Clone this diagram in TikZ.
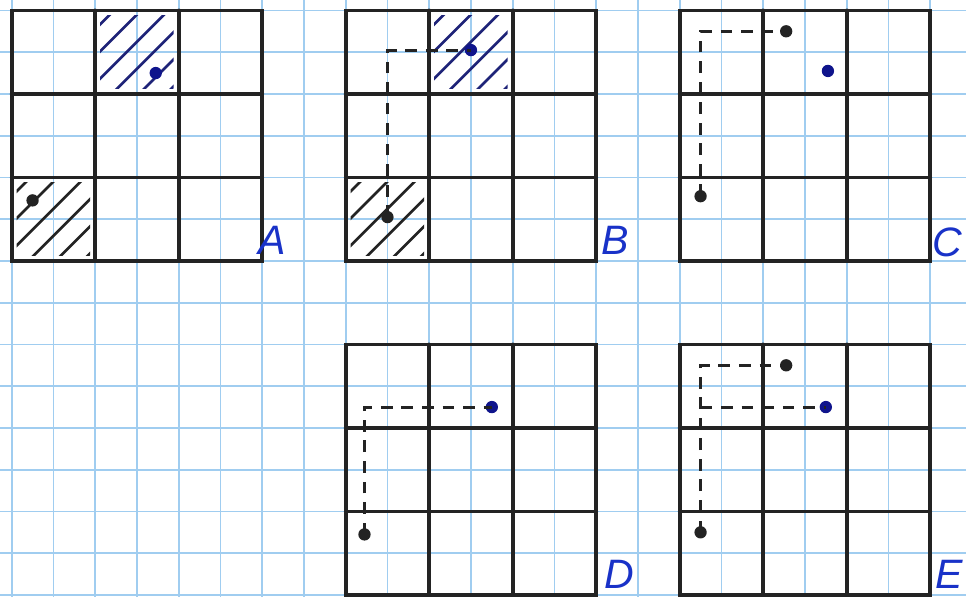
\documentclass[tikz,border=0pt]{standalone}
\usepackage{fontspec}
\setsansfont{Liberation Sans}
\definecolor{paperblue}{RGB}{160,205,240}
\definecolor{ink}{RGB}{35,35,35}
\definecolor{penblue}{RGB}{30,35,120}
\definecolor{dotblue}{RGB}{15,20,140}
\definecolor{letterblue}{RGB}{25,50,200}
\begin{document}
\begin{tikzpicture}[x=5mm, y=-5mm,
  gridline/.style={draw=paperblue, line width=0.6pt},
  panel/.style={draw=ink, line width=1.3pt, line cap=round},
  dot/.style={circle, fill=#1, inner sep=0pt, minimum size=4.2pt},
  route/.style={draw=ink, line width=1pt, dash pattern=on 4pt off 3pt},
  hatch/.style={draw=#1, line width=0.9pt, line cap=round},
  tag/.style={text=letterblue, font=\sffamily\itshape\fontsize{14}{14}\selectfont}]
  \useasboundingbox[fill=white] (-0.28,-0.25) rectangle (22.857,14.049);
  \foreach \i in {0,...,22}
    \draw[gridline] (\i,-0.25) -- (\i,14.049);
  \foreach \j in {0,...,14}
    \draw[gridline] (-0.28,\j) -- (22.857,\j);
  \foreach \cx/\cy/\cc in {2/0/penblue, 0/4/ink, 10/0/penblue, 8/4/ink} {
    \begin{scope}
      \clip (\cx+0.12,\cy+0.12) rectangle (\cx+1.88,\cy+1.88);
      \foreach \t in {0.45,1.1,...,3.8}
        \draw[hatch=\cc] (\cx+\t,\cy) -- ++(-2,2);
    \end{scope}
  }
  \foreach \ox/\oy in {0/0, 8/0, 16/0, 8/8, 16/8} {
    \draw[panel] (\ox,\oy) rectangle ++(6,6);
    \draw[panel] (\ox+2,\oy) -- ++(0,6) (\ox+4,\oy) -- ++(0,6);
    \draw[panel] (\ox,\oy+2) -- ++(6,0) (\ox,\oy+4) -- ++(6,0);
  }
  \node[dot=dotblue] (aB) at (3.45,1.5) {};
  \node[dot=ink] (aK) at (0.5,4.55) {};
  \node[dot=dotblue] (bB) at (11,0.95) {};
  \node[dot=ink] (bK) at (9,4.95) {};
  \node[dot=ink] (cT) at (18.55,0.5) {};
  \node[dot=dotblue] (cB) at (19.55,1.45) {};
  \node[dot=ink] (cK) at (16.5,4.45) {};
  \node[dot=dotblue] (dB) at (11.5,9.5) {};
  \node[dot=ink] (dK) at (8.45,12.55) {};
  \node[dot=ink] (eT) at (18.55,8.5) {};
  \node[dot=dotblue] (eB) at (19.5,9.5) {};
  \node[dot=ink] (eK) at (16.5,12.5) {};
  \coordinate (bC) at (9,0.95);
  \coordinate (cC) at (16.5,0.5);
  \coordinate (dC) at (8.45,9.5);
  \coordinate (eC) at (16.5,8.5);
  \coordinate (eJ) at (16.5,9.5);
  \draw[route] (bK.center) -- (bC) -- (bB.center);
  \draw[route] (cK.center) -- (cC) -- (cT.center);
  \draw[route] (dK.center) -- (dC) -- (dB.center);
  \draw[route] (eK.center) -- (eC) -- (eT.center);
  \draw[route] (eJ) -- (eB.center);
  \node[tag] (labA) at (6.25,5.5) {A};
  \node[tag] (labB) at (14.45,5.5) {B};
  \node[tag] (labC) at (22.42,5.55) {C};
  \node[tag] (labD) at (14.55,13.5) {D};
  \node[tag] (labE) at (22.45,13.5) {E};
\end{tikzpicture}
\end{document}
